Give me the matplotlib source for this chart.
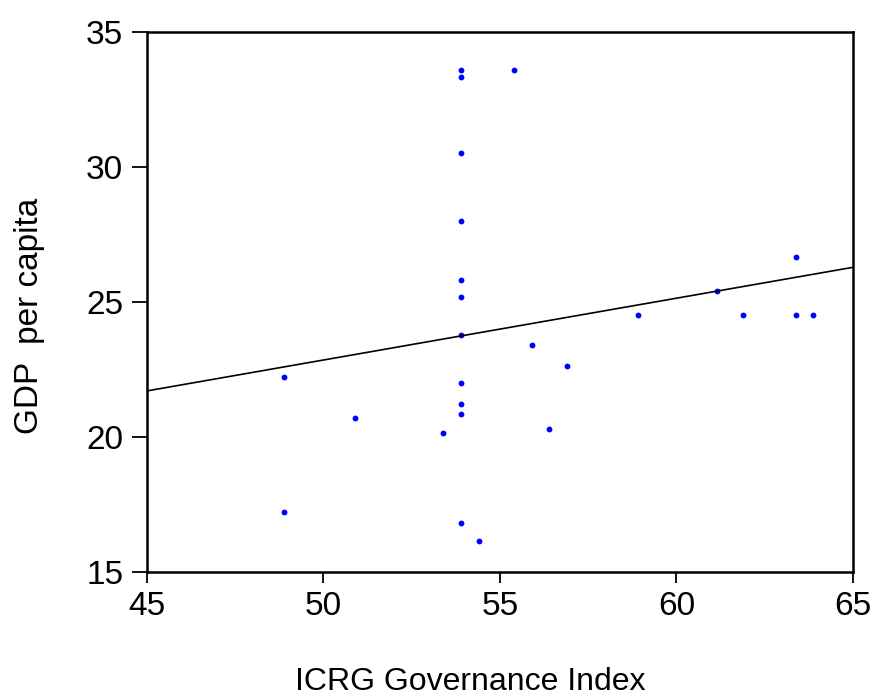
import matplotlib.pyplot as plt
import numpy as np

plt.rcParams['font.family'] = ['Liberation Sans', 'DejaVu Sans']

# ICRG governance index vs GDP per capita
icrg = [53.9, 53.9, 53.9, 53.9, 53.9, 53.9, 53.9, 53.9, 53.9, 53.9, 53.9,
        55.4, 55.9, 56.9, 48.9, 48.9, 50.9, 53.4, 56.4, 54.4,
        58.9, 61.14, 61.89, 63.38, 63.38, 63.88]
gdp = [33.58, 33.32, 30.51, 27.99, 25.80, 25.19, 23.78, 21.99, 21.20, 20.83, 16.81,
       33.57, 23.40, 22.62, 22.20, 17.21, 20.68, 20.13, 20.30, 16.15,
       24.51, 25.41, 24.51, 26.67, 24.51, 24.51]

x_ticks = [45, 50, 55, 60, 65]
y_ticks = [15, 20, 25, 30, 35]

x = np.array(icrg)
y = np.array(gdp)
slope, intercept = np.polyfit(x, y, 1)

fig = plt.figure(figsize=(8.75, 6.99), dpi=100)
ax = fig.add_axes([0.1677, 0.1821, 0.8072, 0.7726])

ax.plot(x, y, 'o', color='#0000ff', markersize=4.2, markeredgewidth=0)
xs = np.array([45, 65])
ax.plot(xs, intercept + slope * xs, color='black', lw=1.2)

ax.set_xlim(45, 65)
ax.set_ylim(15, 35)
ax.set_xticks(x_ticks)
ax.set_yticks(y_ticks)
ax.tick_params(axis='both', labelsize=24, direction='out', width=1.3, pad=6)
ax.tick_params(axis='x', length=8)
ax.tick_params(axis='y', length=11)
for s in ax.spines.values():
    s.set_linewidth(1.8)

fig.text(470 / 875, 2 / 699, 'ICRG Governance Index', fontsize=23,
         ha='center', va='bottom')
fig.text(30 / 875, 1 - 316 / 699, 'GDP  per capita', fontsize=24,
         ha='center', va='center', rotation=90)

fig.savefig('out.png', dpi=100)
